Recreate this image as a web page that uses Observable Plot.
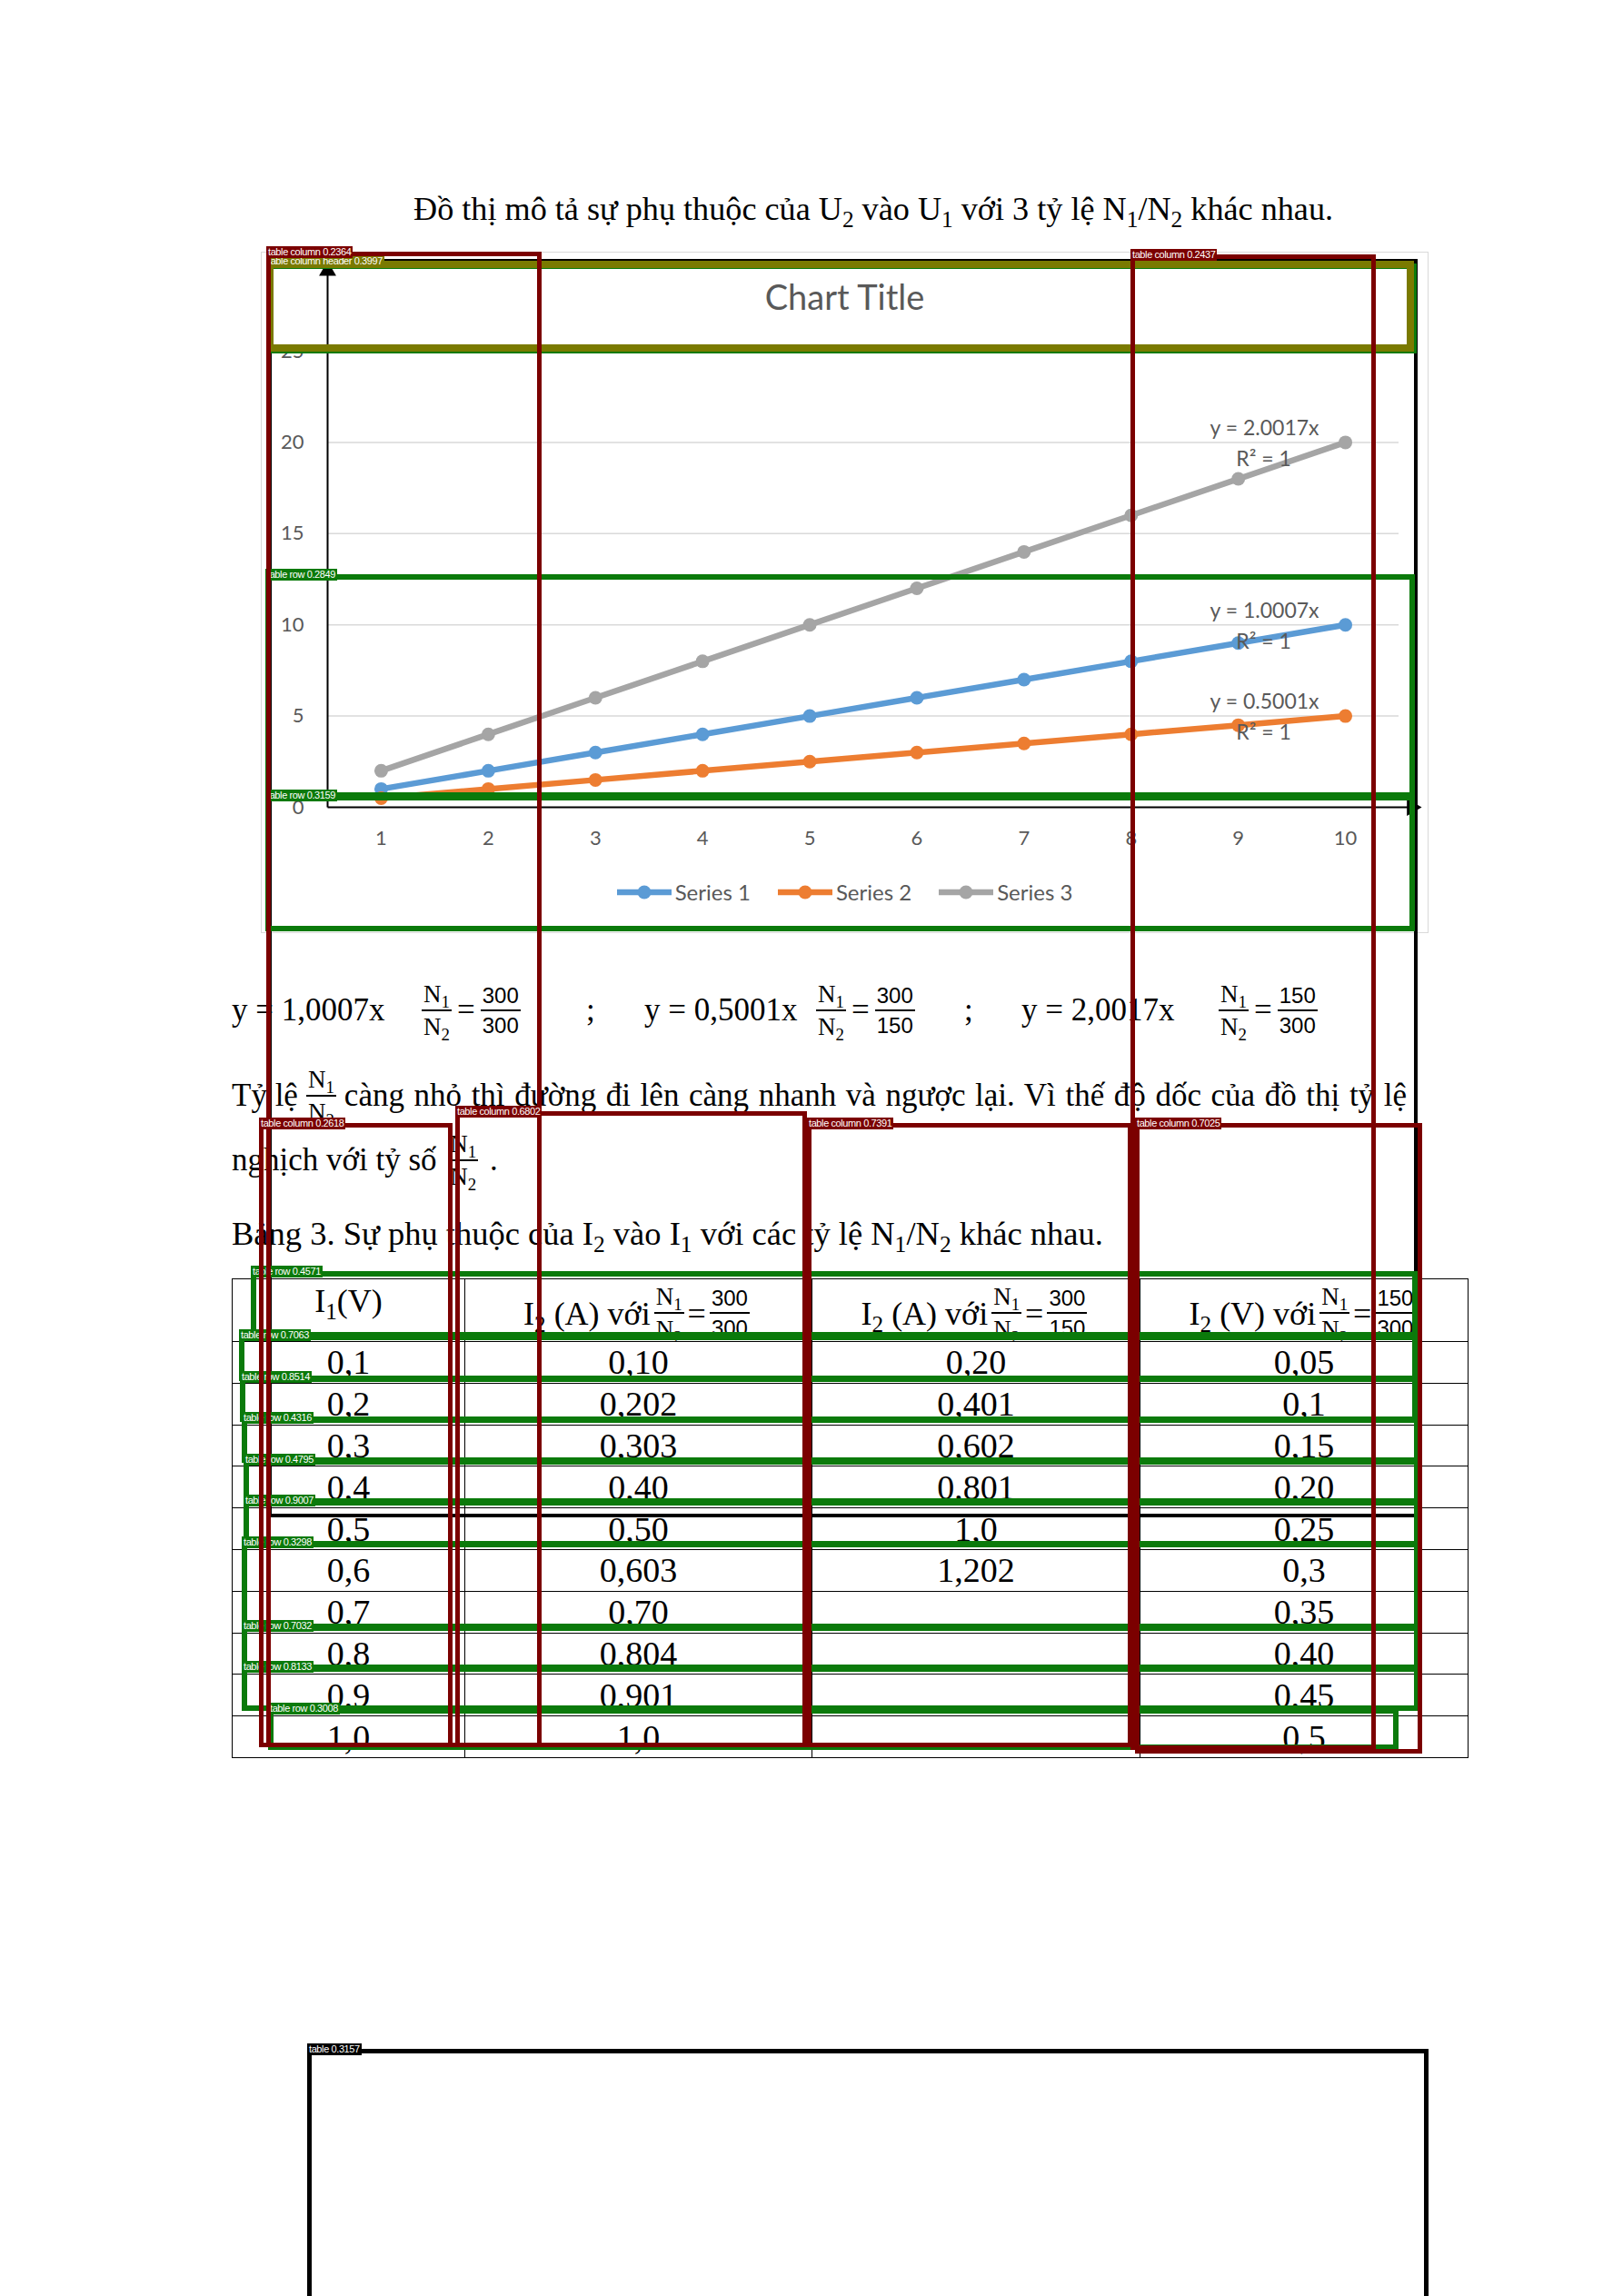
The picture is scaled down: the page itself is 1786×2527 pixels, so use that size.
<!DOCTYPE html>
<html><head><meta charset="utf-8">
<script src="https://cdn.jsdelivr.net/npm/d3@7"></script>
<script src="https://cdn.jsdelivr.net/npm/@observablehq/plot@0.6"></script>
<style>
html,body{margin:0;padding:0;background:#fff;}
#page{position:relative;width:1786px;height:2527px;overflow:hidden;font-family:"Liberation Serif","Times New Roman",serif;color:#000;}
.abs{position:absolute;white-space:nowrap;}
.frac{display:inline-flex;flex-direction:column;align-items:stretch;vertical-align:middle;line-height:1;margin:0 4px;}
.frac span{display:block;text-align:center;padding:0 2px;}
.frac .n{padding-bottom:3px;}
.frac .d{border-top:2px solid #000;padding-top:4px;}
.fs{font-size:27px;}
.num{font-family:"Liberation Sans",Arial,sans-serif;font-size:24px;}
sub{font-size:0.7em;vertical-align:-0.3em;line-height:0;}
.eqgrp{display:flex;align-items:center;height:84px;font-size:35px;}
#tbl{position:absolute;left:255px;top:1407px;width:1360px;border-collapse:collapse;table-layout:fixed;font-size:38px;}
#tbl td{border:1.5px solid #000;text-align:center;padding:0;height:44.8px;line-height:44px;overflow:hidden;}
#tbl tr.h td{height:68px;}
.hc{height:68px;overflow:hidden;display:flex;align-items:flex-start;justify-content:center;line-height:1;white-space:nowrap;box-sizing:border-box;font-size:36px;}
.box{position:absolute;box-sizing:border-box;}
.tag{position:absolute;font-family:"Liberation Sans",Arial,sans-serif;font-size:11px;color:#fff;line-height:13px;padding:0 2px;white-space:nowrap;letter-spacing:-0.4px;}
#legend{position:absolute;left:0;width:100%;display:flex;justify-content:center;gap:30px;font-family:Lato,sans-serif;font-size:24px;color:#595959;}
#legend .it{display:flex;align-items:center;gap:4px;}
.just{flex:1;text-align:justify;text-align-last:justify;white-space:normal;}
.pf .frac{margin:0 9px 0 9px;}
</style></head>
<body><div id="page"></div>
<script>
// ---------- chart data ----------
const xValues = [1,2,3,4,5,6,7,8,9,10];
const series1 = [1,2,3,4,5,6,7,8,9,10];
const series2 = [0.5,1,1.5,2,2.5,3,3.5,4,4.5,5];
const series3 = [2,4,6,8,10,12,14,16,18,20];
const seriesNames = ["Series 1","Series 2","Series 3"];
const seriesColors = ["#5B9BD5","#ED7D31","#A5A5A5"];
const trendEquations = ["y = 1.0007x","y = 0.5001x","y = 2.0017x"];
const trendR2 = ["R² = 1","R² = 1","R² = 1"];
const yTicks = [0,5,10,15,20,25];
const chartTitle = "Chart Title";
// axis arrow extents (data units)
const axisEnds = {xMin:0.5, xMax:10.62, yMax:29.4};

// ---------- table data ----------
const tableI1 = ["0,1","0,2","0,3","0,4","0,5","0,6","0,7","0,8","0,9","1,0"];
const tableCol300_300 = ["0,10","0,202","0,303","0,40","0,50","0,603","0,70","0,804","0,901","1,0"];
const tableCol300_150 = ["0,20","0,401","0,602","0,801","1,0","1,202","","","",""];
const tableCol150_300 = ["0,05","0,1","0,15","0,20","0,25","0,3","0,35","0,40","0,45","0,5"];

// ---------- detection overlay boxes (page decoration) ----------
const overlayBoxes = [
  {c:"#000000", w:4, x0:295,y0:285,x1:1560,y1:1670, label:""},
  {c:"#0b7a0b", w:6, x0:295,y0:290,x1:1559,y1:389, label:""},
  {c:"#0b7a0b", w:6, x0:292,y0:632,x1:1557,y1:878, label:"table row 0.2849"},
  {c:"#0b7a0b", w:6, x0:292,y0:875,x1:1557,y1:1025, label:"table row 0.3159"},
  {c:"#0b7a0b", w:6, x0:276,y0:1399,x1:1560,y1:1472, label:"table row 0.4571"},
  {c:"#0b7a0b", w:6, x0:263,y0:1469,x1:1560,y1:1520, label:"table row 0.7063"},
  {c:"#0b7a0b", w:6, x0:264,y0:1515,x1:1560,y1:1565, label:"table row 0.8514"},
  {c:"#0b7a0b", w:6, x0:266,y0:1560,x1:1562,y1:1610, label:"table row 0.4316"},
  {c:"#0b7a0b", w:6, x0:268,y0:1606,x1:1562,y1:1655, label:"table row 0.4795"},
  {c:"#0b7a0b", w:6, x0:268,y0:1651,x1:1562,y1:1702, label:"table row 0.9007"},
  {c:"#0b7a0b", w:6, x0:266,y0:1697,x1:1562,y1:1793, label:"table row 0.3298"},
  {c:"#0b7a0b", w:6, x0:266,y0:1789,x1:1562,y1:1838, label:"table row 0.7032"},
  {c:"#0b7a0b", w:6, x0:266,y0:1834,x1:1562,y1:1883, label:"table row 0.8133"},
  {c:"#0b7a0b", w:6, x0:295,y0:1880,x1:1539,y1:1926, label:"table row 0.3008"},
  {c:"#7a7a00", w:8, x0:293,y0:287,x1:1556,y1:387, label:"table column header 0.3997"},
  {c:"#7b0000", w:5, x0:293,y0:277,x1:596,y1:1923, label:"table column 0.2364"},
  {c:"#7b0000", w:5, x0:1244,y0:280,x1:1514,y1:1926, label:"table column 0.2437"},
  {c:"#7b0000", w:5, x0:285,y0:1236,x1:498,y1:1923, label:"table column 0.2618"},
  {c:"#7b0000", w:5, x0:501,y0:1223,x1:888,y1:1923, label:"table column 0.6802"},
  {c:"#7b0000", w:5, x0:888,y0:1236,x1:1246,y1:1923, label:"table column 0.7391"},
  {c:"#7b0000", w:5, x0:1249,y0:1236,x1:1565,y1:1930, label:"table column 0.7025"},
  {c:"#000000", w:5, x0:338,y0:2255,x1:1572,y1:2545, label:"table 0.3157"}
];

const page = document.getElementById("page");
function el(tag, cls, html, style){const e=document.createElement(tag); if(cls) e.className=cls; if(html!=null) e.innerHTML=html; if(style) Object.assign(e.style, style); return e;}
function frac(n, d, cls){return `<span class="frac ${cls||''}"><span class="n">${n}</span><span class="d">${d}</span></span>`;}
const N12 = frac("N<sub>1</sub>","N<sub>2</sub>","fs");

// caption
page.appendChild(el("div","abs",'Đồ thị mô tả sự phụ thuộc của U<sub>2</sub> vào U<sub>1</sub> với 3 tỷ lệ N<sub>1</sub>/N<sub>2</sub> khác nhau.',{left:"455px",top:"208px",fontSize:"36.2px",lineHeight:"44px"}));

// ---------- chart ----------
const chartBox = el("div",null,null,{position:"absolute",left:"287px",top:"277px",width:"1285px",height:"750px"});
page.appendChild(chartBox);
chartBox.appendChild(el("div",null,null,{position:"absolute",left:"0",top:"0",width:"1285px",height:"750px",border:"1.5px solid #d9d9d9",boxSizing:"border-box"}));
chartBox.appendChild(el("div",null,chartTitle,{position:"absolute",left:"0",width:"100%",top:"26px",textAlign:"center",fontFamily:"Lato,sans-serif",fontSize:"38px",color:"#595959",lineHeight:"46px"}));

const data = [series1, series2, series3].flatMap((vals, i) =>
  vals.map((v, j) => ({x: xValues[j], y: v, series: seriesNames[i], eq: trendEquations[i], r2: trendR2[i]})));
const lastPts = data.filter(d => d.x === xValues[xValues.length-1]);

const chart = Plot.plot({
  width: 1285, height: 750,
  marginLeft: 73, marginRight: 33, marginTop: 109, marginBottom: 139,
  style: {fontFamily: "Lato, sans-serif", fontSize: "22px", color: "#595959", background: "transparent", overflow: "visible"},
  x: {domain: [0.5, 10.5], axis: null},
  y: {domain: [0, 25], axis: null},
  color: {domain: seriesNames, range: seriesColors},
  marks: [
    Plot.gridY(yTicks.filter(t => t > 0), {stroke: "#d9d9d9", strokeOpacity: 1, strokeWidth: 1.5}),
    Plot.axisY(yTicks, {tickSize: 0, tickPadding: 26, label: null, fontSize: 22, tickFormat: d => String(d)}),
    Plot.axisX(xValues, {tickSize: 0, tickPadding: 26, label: null, fontSize: 22, tickFormat: d => String(d)}),
    Plot.line(data, {x: "x", y: "y", z: "series", stroke: "series", strokeWidth: 6.5, curve: "linear", strokeLinecap: "round"}),
    Plot.dot(data, {x: "x", y: "y", fill: "series", r: 7.5}),
    Plot.text(lastPts, {x: "x", y: "y", text: "eq", dx: -89, dy: -15, fontSize: 23, fill: "#595959"}),
    Plot.text(lastPts, {x: "x", y: "y", text: "r2", dx: -90, dy: 19, fontSize: 23, fill: "#595959"}),
    Plot.link([{x1: axisEnds.xMin, y1: 0, x2: axisEnds.xMin, y2: axisEnds.yMax}, {x1: axisEnds.xMin, y1: 0, x2: axisEnds.xMax, y2: 0}],
      {x1: "x1", y1: "y1", x2: "x2", y2: "y2", stroke: "black", strokeWidth: 2}),
    Plot.dot([{x: axisEnds.xMin, y: axisEnds.yMax, rot: 0}, {x: axisEnds.xMax, y: 0, rot: 90}],
      {x: "x", y: "y", rotate: "rot", symbol: "triangle", r: 7, fill: "black", stroke: "none"})
  ]
});
chart.style.position = "absolute"; chart.style.left = "0"; chart.style.top = "0";
chartBox.appendChild(chart);

// legend
const legend = el("div",null,null); legend.id = "legend"; legend.style.top = (983-277-16)+"px";
seriesNames.forEach((s,i) => {
  legend.appendChild(el("div","it",`<svg width="60" height="16"><line x1="0" y1="8" x2="60" y2="8" stroke="${seriesColors[i]}" stroke-width="6.5"/><circle cx="30" cy="8" r="7.5" fill="${seriesColors[i]}"/></svg><span>${s}</span>`));
});
chartBox.appendChild(legend);

// ---------- equations line ----------
const eqPieces = [
  {left:255, html:"y = 1,0007x"},
  {left:460, html: N12 + '<span style="margin:0 2px">=</span>' + frac("300","300","num")},
  {left:645, html:";"},
  {left:709, html:"y = 0,5001x"},
  {left:894, html: N12 + '<span style="margin:0 2px">=</span>' + frac("300","150","num")},
  {left:1061, html:";"},
  {left:1124, html:"y = 2,0017x"},
  {left:1337, html: N12 + '<span style="margin:0 2px">=</span>' + frac("150","300","num")}
];
eqPieces.forEach(p => page.appendChild(el("div","abs eqgrp",p.html,{left:p.left+"px",top:"1070px"})));

// paragraph
page.appendChild(el("div","abs eqgrp pf",'<span>Tỷ lệ</span>' + N12 + '<span class="just">càng nhỏ thì đường đi lên càng nhanh và ngược lại. Vì thế độ dốc của đồ thị tỷ lệ</span>',
  {left:"255px",top:"1164px",width:"1293px"}));
page.appendChild(el("div","abs eqgrp",'nghịch với tỷ số&nbsp;' + N12 + '&nbsp;.',{left:"255px",top:"1235px"}));
page.appendChild(el("div","abs",'Bảng 3. Sự phụ thuộc của I<sub>2</sub> vào I<sub>1</sub> với các tỷ lệ N<sub>1</sub>/N<sub>2</sub> khác nhau.',{left:"255px",top:"1336px",fontSize:"36.5px",lineHeight:"44px"}));

// ---------- table ----------
const tbl = el("table"); tbl.id = "tbl";
const cg = el("colgroup"); [256,382,361,361].forEach(w => cg.appendChild(el("col",null,null,{width:w+"px"}))); tbl.appendChild(cg);
const hr = el("tr","h");
const hdr = [
  '<span>I<sub>1</sub>(V)</span>',
  '<span>I<sub>2</sub>&nbsp;(A) với</span>' + N12 + '<span>=</span>' + frac("300","300","num"),
  '<span>I<sub>2</sub>&nbsp;(A) với</span>' + N12 + '<span>=</span>' + frac("300","150","num"),
  '<span>I<sub>2</sub>&nbsp;(V) với</span>' + N12 + '<span>=</span>' + frac("150","300","num")
];
hdr.forEach((h,i) => { const td = el("td"); const d = el("div","hc",'<span style="display:inline-flex;align-items:center;">'+h+'</span>'); d.style.paddingTop = i===0 ? "6px" : "6px"; td.appendChild(d); hr.appendChild(td); });
tbl.appendChild(hr);
tableI1.forEach((v,i) => {
  const tr = el("tr");
  [v, tableCol300_300[i], tableCol300_150[i], tableCol150_300[i]].forEach(c => tr.appendChild(el("td",null,c)));
  tbl.appendChild(tr);
});
page.appendChild(tbl);

// ---------- overlays ----------
overlayBoxes.forEach(b => {
  page.appendChild(el("div","box",null,{left:b.x0+"px",top:b.y0+"px",width:(b.x1-b.x0)+"px",height:(b.y1-b.y0)+"px",border:b.w+"px solid "+b.c}));
  if (b.label) page.appendChild(el("div","tag",b.label,{left:(b.x0)+"px",top:(b.y0-6)+"px",background:b.c}));
});
</script>
</body></html>
